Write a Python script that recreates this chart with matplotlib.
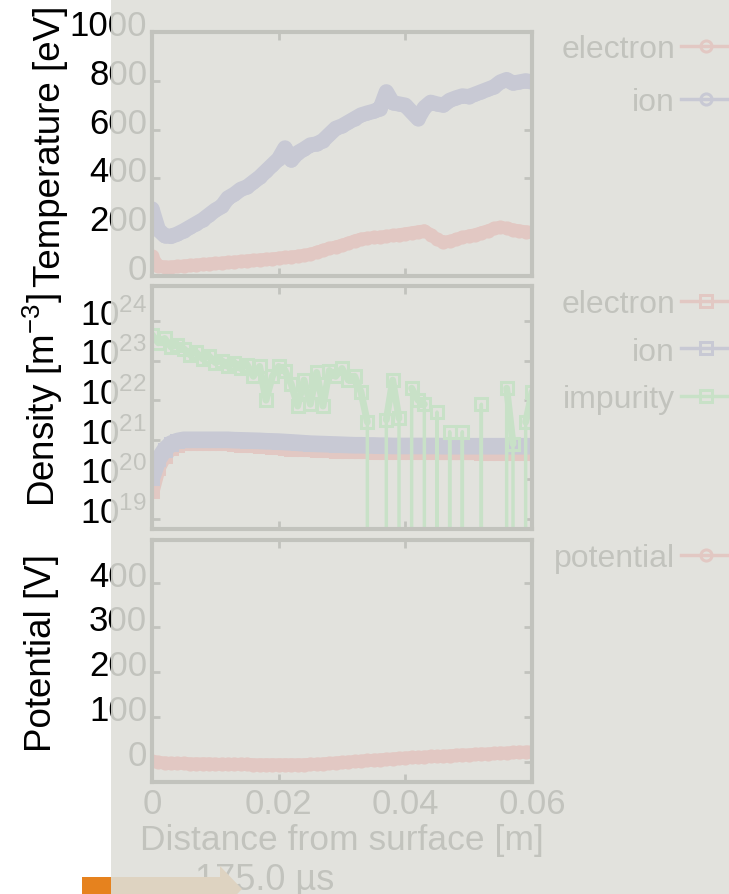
import numpy as np
import matplotlib
matplotlib.use("Agg")
import matplotlib.pyplot as plt
from matplotlib.patches import Rectangle, Polygon
from matplotlib.transforms import ScaledTranslation

plt.rcParams['font.family'] = ['Liberation Sans', 'DejaVu Sans']
plt.rcParams['mathtext.fontset'] = 'custom'
plt.rcParams['mathtext.rm'] = 'Liberation Sans'
plt.rcParams['mathtext.it'] = 'Liberation Sans:italic'
plt.rcParams['mathtext.bf'] = 'Liberation Sans:bold'

W, H = 729, 895

# distance grid [m]
distance = np.linspace(0, 0.06, 61)

# temperature [eV]
temp_electron = [80, 42, 38, 38, 40, 42, 44, 46, 48, 50,
                 52, 54, 56, 58, 60, 63, 65, 67, 69, 71,
                 74, 76, 79, 82, 85, 90, 98, 106, 113, 120,
                 127, 135, 145, 152, 155, 158, 160, 163, 166, 170,
                 174, 178, 182, 186, 170, 150, 140, 142, 150, 158,
                 165, 170, 178, 186, 195, 200, 196, 190, 186, 182, 180]
temp_ion = [275, 190, 165, 162, 172, 185, 200, 215, 230, 250,
            270, 285, 320, 335, 355, 365, 385, 405, 430, 455,
            480, 525, 475, 505, 520, 537, 541, 555, 580, 605,
            615, 630, 645, 660, 668, 675, 685, 755, 710, 705,
            700, 672, 645, 690, 712, 705, 700, 720, 730, 738,
            735, 745, 755, 765, 775, 795, 805, 790, 795, 800, 795]

# density [m^-3]
dens_electron = [5e19, 2e20, 4e20, 6.3e20, 7.6e20, 8.3e20, 8.3e20, 8.3e20, 8.3e20, 8.3e20,
                 8.3e20, 8.2e20, 8.1e20, 7.9e20, 7.6e20, 7.4e20, 7.2e20, 7.0e20, 6.8e20, 6.6e20,
                 6.4e20, 6.2e20, 6.0e20, 5.9e20, 5.8e20, 5.7e20, 5.6e20, 5.5e20, 5.4e20, 5.3e20,
                 5.2e20, 5.2e20, 5.1e20, 5.1e20, 5.1e20, 5.0e20, 5.0e20, 5.0e20, 5.0e20, 4.9e20,
                 4.9e20, 4.9e20, 4.9e20, 4.9e20, 4.9e20, 4.8e20, 4.8e20, 4.8e20, 4.8e20, 4.8e20,
                 4.8e20, 4.8e20, 4.7e20, 4.7e20, 4.7e20, 4.7e20, 4.7e20, 4.7e20, 4.7e20, 4.7e20, 4.7e20]
dens_ion = [1.1e20, 3.2e20, 5.6e20, 8.0e20, 9.3e20, 1.0e21, 1.0e21, 1.0e21, 1.0e21, 1.0e21,
            1.0e21, 1.0e21, 1.0e21, 9.8e20, 9.7e20, 9.6e20, 9.5e20, 9.4e20, 9.2e20, 9.1e20,
            9.0e20, 8.8e20, 8.6e20, 8.4e20, 8.2e20, 8.0e20, 7.9e20, 7.8e20, 7.7e20, 7.6e20,
            7.5e20, 7.4e20, 7.3e20, 7.3e20, 7.2e20, 7.2e20, 7.1e20, 7.1e20, 7.0e20, 7.0e20,
            7.0e20, 7.0e20, 7.0e20, 7.0e20, 7.0e20, 7.0e20, 6.9e20, 6.9e20, 6.9e20, 6.9e20,
            6.9e20, 6.9e20, 6.9e20, 6.9e20, 6.9e20, 6.9e20, 6.9e20, 6.9e20, 6.9e20, 6.9e20, 6.9e20]
dens_impurity = [4.5e23, 2.8e23, 3.6e23, 2.2e23, 2.5e23, 2.0e23, 1.4e23, 1.6e23, 1.1e23, 1.3e23,
                 8.9e22, 1.0e23, 7.1e22, 8.9e22, 6.3e22, 7.9e22, 4.0e22, 7.1e22, 1.0e22, 4.0e22,
                 7.1e22, 5.6e22, 2.5e22, 7.1e21, 3.2e22, 7.9e21, 5.0e22, 7.1e21, 5.6e22, 4.0e22,
                 6.3e22, 3.2e22, 4.0e22, 1.6e22, 2.8e21, 0, 0, 3.2e21, 3.2e22, 3.5e21,
                 0, 2.0e22, 1.0e22, 7.9e21, 0, 5.0e21, 0, 1.6e21, 0, 1.6e21,
                 0, 0, 7.9e21, 0, 0, 0, 2.0e22, 7.9e20, 0, 2.8e21, 1.6e22]

# potential [V]
potential = [2, -1, -2, -3, -3, -3, -4, -4, -4, -4,
             -5, -5, -5, -5, -5, -5, -6, -6, -6, -6,
             -6, -6, -6, -6, -6, -5, -5, -4, -3, -2,
             -1, 0, 1, 2, 3, 4, 5, 6, 7, 8,
             9, 10, 10, 11, 12, 12, 13, 14, 15, 16,
             16, 17, 18, 18, 19, 20, 20, 21, 22, 22, 23]

temp_ticks = [0, 200, 400, 600, 800, 1000]
dens_ticks = [1e19, 1e20, 1e21, 1e22, 1e23, 1e24]
dens_ticklabels = ['$10^{19}$', '$10^{20}$', '$10^{21}$', '$10^{22}$', '$10^{23}$', '$10^{24}$']
pot_ticks = [0, 100, 200, 300, 400]
x_ticks = [0, 0.02, 0.04, 0.06]
x_ticklabels = ['0', '0.02', '0.04', '0.06']

c_el = '#ff2a2a'
c_ion = '#3232b4'
c_imp = '#30f050'

fig = plt.figure(figsize=(W / 100, H / 100), dpi=100)
fig.patch.set_facecolor('white')

left = 152 / W
width = 380 / W
ax1 = fig.add_axes([left, 1 - 277 / H, width, 244 / H])
ax2 = fig.add_axes([left, 1 - 530 / H, width, 243 / H], sharex=ax1)
ax3 = fig.add_axes([left, 1 - 783 / H, width, 242 / H], sharex=ax1)

line_kw = dict(lw=2.5, mew=2.2, mfc='none')


def band(ax, y, color, lw):
    # the dense overlapping markers of the original read as a solid band
    ax.plot(distance, y, color=color, lw=lw, solid_capstyle='round',
            solid_joinstyle='round')


band(ax1, temp_electron, c_el, 9)
ax1.plot(distance, temp_electron, '-o', color=c_el, ms=8, label='electron', **line_kw)
band(ax1, temp_ion, c_ion, 11)
ax1.plot(distance, temp_ion, '-o', color=c_ion, ms=8, label='ion', **line_kw)
ax1.set_ylim(0, 1000)
ax1.set_yticks(temp_ticks)
ax1.set_yticklabels([str(t) for t in temp_ticks])
ax1.set_ylabel('Temperature [eV]', fontsize=26.5)

ax2.set_yscale('log')
imp = np.array(dens_impurity, dtype=float)
band(ax2, dens_electron, c_el, 11)
ax2.plot(distance, dens_electron, '-s', color=c_el, ms=8.5, label='electron', **line_kw)
band(ax2, dens_ion, c_ion, 12)
ax2.plot(distance, dens_ion, '-s', color=c_ion, ms=8.5, label='ion', **line_kw)
band(ax2, np.where(imp > 0, imp, np.nan), c_imp, 5)
ax2.plot(distance, imp, '-s', color=c_imp, ms=9, label='impurity', **line_kw)
ax2.set_ylim(10 ** 18.75, 10 ** 24.88)
ax2.set_yticks(dens_ticks)
ax2.set_yticklabels(dens_ticklabels)
ax2.minorticks_off()
ax2.set_ylabel('Density [m$^{-3}$]', fontsize=26.5)

band(ax3, potential, c_el, 9)
ax3.plot(distance, potential, '-o', color=c_el, ms=8, label='potential', **line_kw)
ax3.set_ylim(-45, 495)
ax3.set_yticks(pot_ticks)
ax3.set_yticklabels([str(t) for t in pot_ticks])
ax3.set_ylabel('Potential [V]', fontsize=26.5)

ax3.set_xlim(0, 0.06)
ax3.set_xticks(x_ticks)
ax3.set_xticklabels(x_ticklabels)
ax3.set_xlabel('Distance from surface [m]', fontsize=25.5)
ax1.tick_params(labelbottom=False)
ax2.tick_params(labelbottom=False)

for ax in (ax1, ax2, ax3):
    for sp in ax.spines.values():
        sp.set_linewidth(3)
    ax.tick_params(which='both', direction='in', top=True, right=True,
                   length=6, width=2, labelsize=25)
    ax.tick_params(axis='x', pad=3.5)

# tick labels sit a bit above their ticks in the reference
lift = ScaledTranslation(0, 10 / 100, fig.dpi_scale_trans)
for ax in (ax1, ax2, ax3):
    for lab in ax.get_yticklabels():
        lab.set_transform(lab.get_transform() + lift)

ax1.yaxis.set_label_coords(-0.22, 0.537)
ax2.yaxis.set_label_coords(-0.229, 0.535)
ax3.yaxis.set_label_coords(-0.245, 0.537)
ax3.xaxis.set_label_coords(0.5, -0.17)

leg_kw = dict(loc='upper right', bbox_transform=fig.transFigure, frameon=False,
              markerfirst=False, borderpad=0, borderaxespad=0, handlelength=1.55,
              handletextpad=0.2, fontsize=23, numpoints=1)
ax1.legend(bbox_to_anchor=(731 / W, 1 - 35 / H), labelspacing=0.71, **leg_kw)
ax2.legend(bbox_to_anchor=(731 / W, 1 - 290 / H), labelspacing=0.55, **leg_kw)
ax3.legend(bbox_to_anchor=(731 / W, 1 - 544 / H), labelspacing=0.4, **leg_kw)

fig.text(265 / W, 1 - 890 / H, '175.0 \u00b5s', fontsize=26, ha='center', va='baseline')

# orange slider arrow at the bottom
arrow_px = [(82, 878), (220, 878), (220, 867), (242, 890), (220, 913), (220, 902), (82, 902)]
arrow = Polygon([(x / W, 1 - y / H) for x, y in arrow_px], closed=True,
                transform=fig.transFigure, facecolor='#e6821e', edgecolor='none', zorder=50)
fig.add_artist(arrow)

# translucent grey panel covering most of the figure
shade = Rectangle((111 / W, 0), 1, 1, transform=fig.transFigure,
                  facecolor=(222 / 255, 223 / 255, 217 / 255), alpha=0.88,
                  edgecolor='none', zorder=100)
fig.add_artist(shade)

fig.savefig('out.png', dpi=100)
